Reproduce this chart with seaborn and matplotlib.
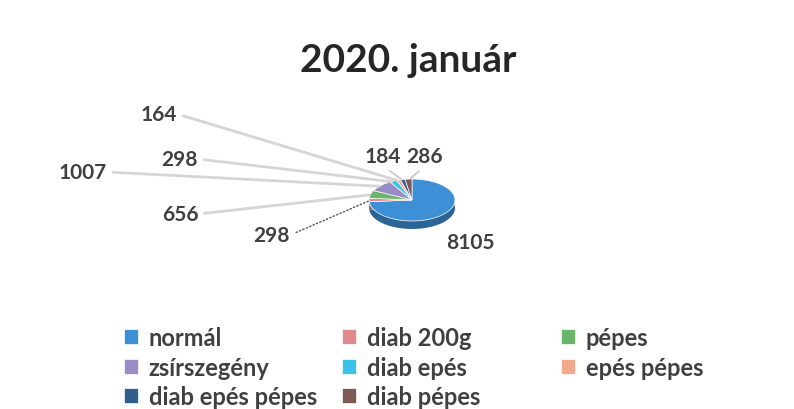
import matplotlib.pyplot as plt
import matplotlib.colors as mcolors
import seaborn as sns
import numpy as np

# Adatok
categories = ["normál", "diab 200g", "pépes", "zsírszegény", "diab epés",
              "epés pépes", "diab epés pépes", "diab pépes"]
values = [8105, 298, 656, 1007, 298, 164, 184, 286]
colors = ["#3d8fd6", "#e08a8e", "#6bb56b", "#9a8cc6", "#3cc2ea",
          "#f2a88a", "#2f5f8f", "#7f5a55"]

# címke pozíciók (figure pixels, alulról)
label_pos = [(470, 167), (272, 174), (180, 195), (83, 237), (180, 250),
             (159, 295), (383, 253), (425, 253)]

sns.set_theme(style="white")
plt.rcParams['font.family'] = ['Lato', 'DejaVu Sans']

fig = plt.figure(figsize=(7.94, 4.10), dpi=100)
ax = fig.add_axes([0, 0, 1, 1])

# pie geometry: 1 unit = rx px (x), ry px (y); centre at (412, 201 from top)
cx, cy = 412, 410 - 201
rx, ry = 43, 21
thick = 8 / ry

darker = [tuple(c * 0.7 for c in mcolors.to_rgb(col)) for col in colors]
ax.pie(values, colors=darker, startangle=90, counterclock=False,
       center=(0, -thick), wedgeprops=dict(linewidth=0))
wedges, _ = ax.pie(values, colors=colors, startangle=90, counterclock=False,
                   wedgeprops=dict(linewidth=0.5, edgecolor="white"))
ax.set_aspect('auto')
ax.set_xlim(-cx / rx, (794 - cx) / rx)
ax.set_ylim(-cy / ry, (410 - cy) / ry)
ax.axis('off')

# adatcímkék vezetővonalakkal
for i, (w, v) in enumerate(zip(wedges, values)):
    ang = np.deg2rad((w.theta1 + w.theta2) / 2)
    px, py = np.cos(ang) * 0.95, np.sin(ang) * 0.95
    tx, ty = label_pos[i]
    if i == 0:
        ax.annotate(f"{v}", xy=(px, py), xytext=(tx, ty), textcoords='figure pixels',
                    ha='center', va='center', fontsize=15, fontweight='bold', color='#404040')
        continue
    if i == 1:
        arrow = dict(arrowstyle='-', color='#555555', lw=1, linestyle=':', relpos=(1, 0.5))
    elif i >= 6:
        arrow = dict(arrowstyle='-', color='#bbbbbb', lw=1, relpos=(0.5, 0))
    else:
        arrow = dict(arrowstyle='-', color='#d5d5d5', lw=2, relpos=(1, 0.5))
    ax.annotate(f"{v}", xy=(px, py), xytext=(tx, ty), textcoords='figure pixels',
                ha='center', va='center', fontsize=15, fontweight='bold', color='#404040',
                arrowprops=arrow)

fig.text(0.514, 1 - 72 / 410, "2020. január", ha='center', va='baseline',
         fontsize=28, fontweight='bold', color='#262626')

# jelmagyarázat: három oszlop, soronként olvasva
col_x = [124 / 794, 342 / 794, 561 / 794]
for c in range(3):
    idx = list(range(c, len(categories), 3))
    leg = fig.legend([wedges[i] for i in idx], [categories[i] for i in idx],
                     loc='upper left', bbox_to_anchor=(col_x[c], 1 - 327 / 410), frameon=False,
                     handlelength=0.6, handleheight=0.6, handletextpad=0.45,
                     labelspacing=0.28, borderaxespad=0, borderpad=0,
                     prop=dict(size=17, weight='bold'), labelcolor='#404040')

fig.savefig("out.png", dpi=100, facecolor='white')
